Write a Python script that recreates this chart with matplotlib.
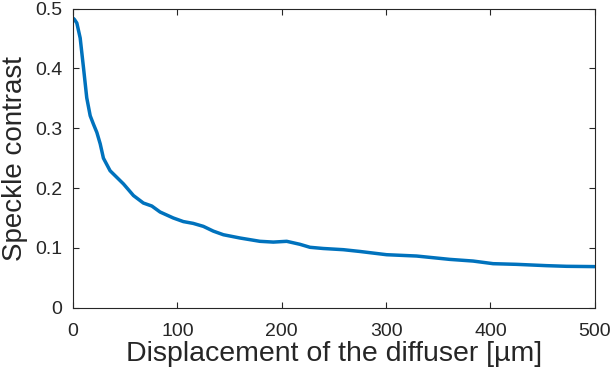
import numpy as np
import matplotlib.pyplot as plt

plt.rcParams['font.family'] = ['Liberation Sans', 'DejaVu Sans']

# displacement [um] and speckle contrast
disp = [0, 1.2, 3.5, 6.7, 9.9, 13, 16.3, 19.4, 22.7, 25.9, 29, 35.4, 48.2, 57.8, 67.3, 75.4,
        83.3, 96, 105.6, 115, 124.8, 134.4, 144, 160, 179, 191.9, 204.7, 217.4, 227, 239.7,
        259, 275, 300.5, 329.2, 361, 383.4, 402.6, 425, 453.7, 472.9, 500]
contrast = [0.484, 0.482, 0.476, 0.451, 0.401, 0.351, 0.321, 0.307, 0.293, 0.274, 0.250, 0.229,
            0.207, 0.1875, 0.175, 0.170, 0.160, 0.150, 0.144, 0.141, 0.136, 0.128, 0.122,
            0.1165, 0.111, 0.1097, 0.111, 0.106, 0.101, 0.0990, 0.097, 0.094, 0.0886, 0.0864,
            0.0808, 0.078, 0.0736, 0.0725, 0.0703, 0.0692, 0.0687]

xticks = [0, 100, 200, 300, 400, 500]
yticks = [0, 0.1, 0.2, 0.3, 0.4, 0.5]

fig = plt.figure(figsize=(6.15, 3.78), dpi=100)
ax = fig.add_axes([0.119, 0.186, 0.848, 0.791])
ax.plot(disp, contrast, color='#0072BD', lw=2.5, solid_capstyle='round')

ax.set_xlim(0, 500)
ax.set_ylim(0, 0.5)
ax.set_xticks(xticks)
ax.set_yticks(yticks)
ax.set_yticklabels(['0', '0.1', '0.2', '0.3', '0.4', '0.5'])
ax.tick_params(direction='in', top=True, right=True, length=4, width=0.8,
               labelsize=14, colors='#262626')
ax.tick_params(axis='y', pad=8)
ax.tick_params(axis='x', pad=11)
for s in ax.spines.values():
    s.set_color('#262626')
    s.set_linewidth(0.8)

ax.set_xlabel('Displacement of the diffuser [µm]', fontsize=20.5, color='#262626', labelpad=1)
ax.set_ylabel('Speckle contrast', fontsize=20, color='#262626', labelpad=5)

fig.savefig('out.png', dpi=100)
